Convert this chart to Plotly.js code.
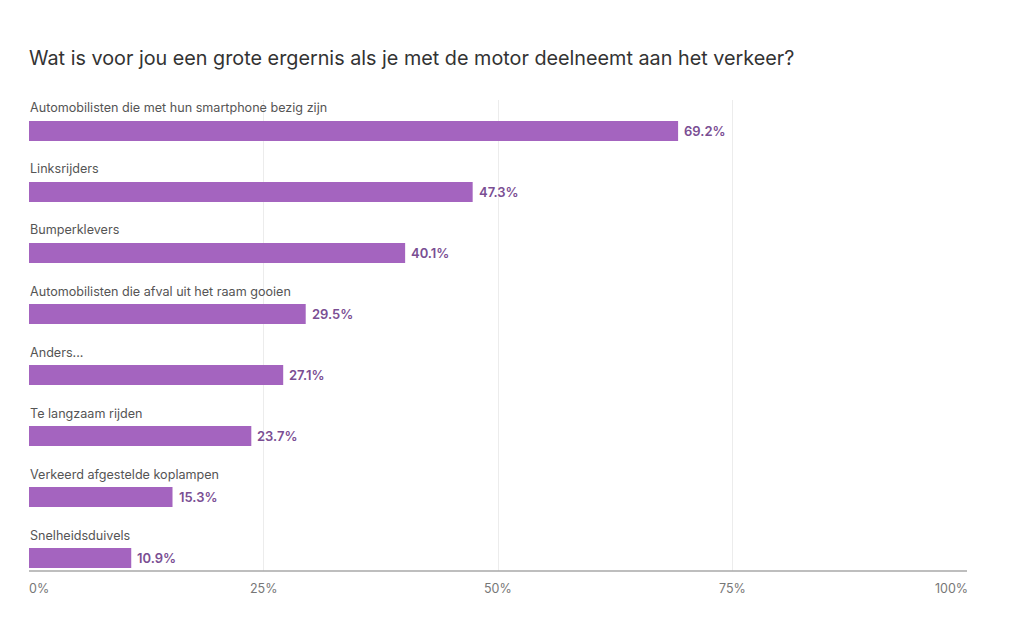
<!DOCTYPE html>
<html>
<head>
<meta charset="utf-8">
<script src="https://cdn.plot.ly/plotly-3.0.1.min.js"></script>
<style>html,body{margin:0;padding:0;background:#fff;}#chart{width:1024px;height:629px;}</style>
</head>
<body>
<div id="chart"></div>
<script>
const titleText = "Wat is voor jou een grote ergernis als je met de motor deelneemt aan het verkeer?";
const categories = [
  "Automobilisten die met hun smartphone bezig zijn",
  "Linksrijders",
  "Bumperklevers",
  "Automobilisten die afval uit het raam gooien",
  "Anders...",
  "Te langzaam rijden",
  "Verkeerd afgestelde koplampen",
  "Snelheidsduivels"
];
const percentages = [69.2, 47.3, 40.1, 29.5, 27.1, 23.7, 15.3, 10.9];
const tickValues = [0, 25, 50, 75, 100];
const tickLabels = ["0%", "25%", "50%", "75%", "100%"];

const FONT = "Inter, 'Open Sans', sans-serif";
const positions = categories.map((c, i) => i);

const trace = {
  type: "bar",
  orientation: "h",
  x: percentages,
  y: positions,
  width: 0.33,
  marker: {color: "#a464bf"},
  hoverinfo: "skip"
};

const catAnnotations = categories.map((c, i) => ({
  xref: "x", yref: "y", x: 0, y: i,
  text: c, showarrow: false,
  xanchor: "left", yanchor: "middle",
  yshift: 23, xshift: -1,
  font: {family: FONT, size: 12.6, color: "#555"}
}));

const valueAnnotations = percentages.map((v, i) => ({
  xref: "x", yref: "y", x: v, y: i,
  text: v.toFixed(1) + "%", showarrow: false,
  xanchor: "left", yanchor: "middle",
  xshift: 4,
  font: {family: FONT, size: 13, color: "#7a4e93", weight: 600}
}));

const last = tickValues.length - 1;
const tickAnnotations = tickValues.map((v, i) => ({
  xref: "x", yref: "paper", x: v, y: 0,
  text: tickLabels[i], showarrow: false,
  xanchor: i === 0 ? "left" : (i === last ? "right" : "center"),
  xshift: i === 0 ? -2 : (i === last ? 3 : 0),
  yanchor: "middle",
  yshift: -17,
  font: {family: FONT, size: 12.5, color: "#777"}
}));

const layout = {
  width: 1024, height: 629,
  margin: {l: 29, r: 57, t: 100, b: 58},
  paper_bgcolor: "#fff", plot_bgcolor: "#fff",
  title: {
    text: titleText,
    x: 29/1024, xanchor: "left", xref: "container",
    y: 1 - 58/629, yanchor: "middle", yref: "container",
    font: {family: FONT, size: 19.8, color: "#333"}
  },
  xaxis: {
    range: [0, 100],
    tickvals: tickValues,
    showticklabels: false,
    showgrid: true, gridcolor: "#ececec", gridwidth: 1,
    zeroline: false,
    showline: false,
    ticks: "",
    fixedrange: true
  },
  yaxis: {
    range: [7.213, -0.508],
    showticklabels: false, showgrid: false, zeroline: false, ticks: "",
    fixedrange: true
  },
  shapes: [{
    type: "line", xref: "paper", yref: "paper",
    x0: 0, x1: 1, y0: 0, y1: 0,
    line: {color: "#a9a9a9", width: 1.5}
  }],
  annotations: catAnnotations.concat(valueAnnotations, tickAnnotations),
  showlegend: false
};

Plotly.newPlot("chart", [trace], layout, {displayModeBar: false, staticPlot: true});
</script>
</body>
</html>
